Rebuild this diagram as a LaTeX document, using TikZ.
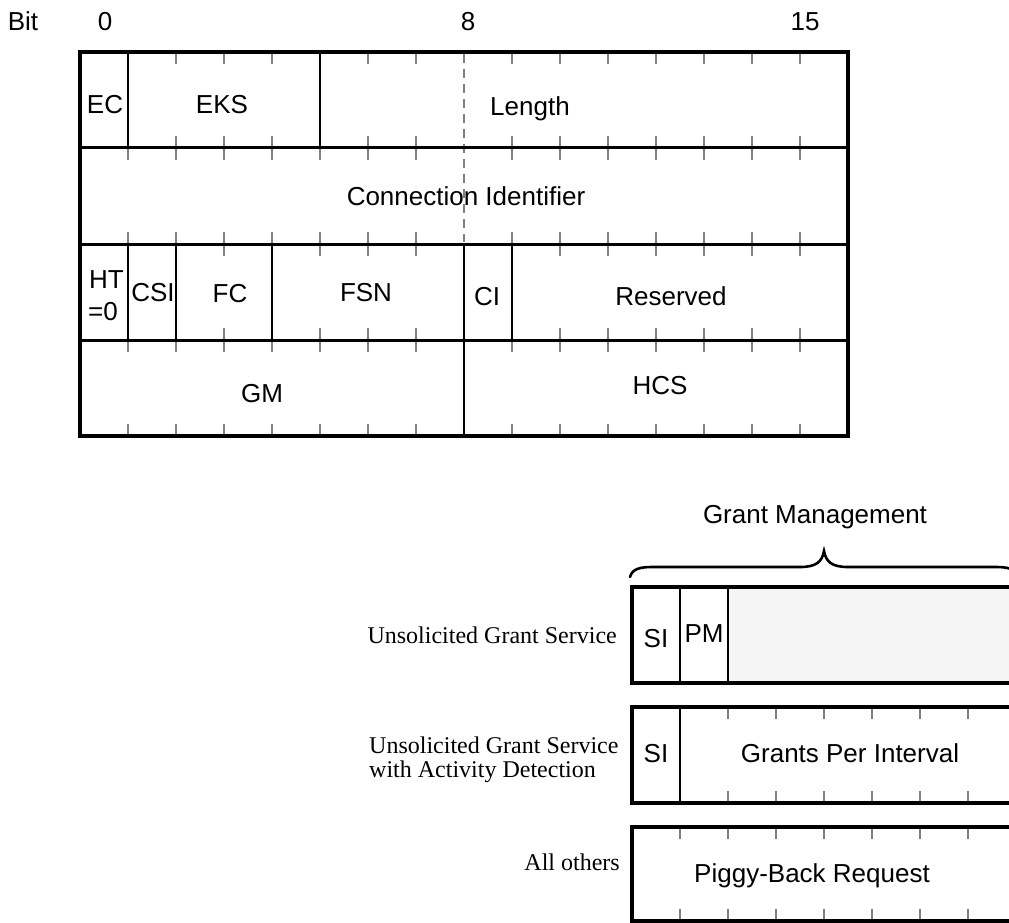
\documentclass[tikz,border=0pt]{standalone}
\usepackage{fontspec}
\setmainfont{Liberation Sans}
\newfontfamily\serifLab{Liberation Serif}
\definecolor{tickgray}{HTML}{808080}
\definecolor{fillgray}{HTML}{F5F5F5}
\begin{document}
\begin{tikzpicture}[x=1pt,y=-1pt,
  border/.style={line width=3.6pt},
  rowline/.style={line width=3pt},
  divider/.style={line width=1.8pt},
  tickmark/.style={line width=1.6pt,draw=tickgray},
  lbl/.style={font=\fontsize{26}{30}\selectfont,inner sep=0pt,anchor=base},
  svc/.style={font=\serifLab\fontsize{24}{26}\selectfont,inner sep=0pt},
  bracestyle/.style={line width=2.6pt,line cap=round}
]
\useasboundingbox (0,0) rectangle (1009,923);
\clip (0,0) rectangle (1009,923);

% ---------- top header table ----------
% ticks row 1
\foreach \b in {2,3,4,6,7,9,10,11,12,13,14,15} {
  \draw[tickmark] (80+48*\b,52) -- ++(0,12);
  \draw[tickmark] (80+48*\b,148) -- ++(0,-12);
}
% ticks row 2
\foreach \b in {1,2,3,4,5,6,7,9,10,11,12,13,14,15} {
  \draw[tickmark] (80+48*\b,148) -- ++(0,12);
  \draw[tickmark] (80+48*\b,244) -- ++(0,-12);
}
% ticks row 3
\foreach \b in {3,5,6,7,10,11,12,13,14,15} {
  \draw[tickmark] (80+48*\b,244) -- ++(0,12);
  \draw[tickmark] (80+48*\b,340) -- ++(0,-12);
}
% ticks row 4
\foreach \b in {1,2,3,4,5,6,7,9,10,11,12,13,14,15} {
  \draw[tickmark] (80+48*\b,340) -- ++(0,12);
  \draw[tickmark] (80+48*\b,436) -- ++(0,-12);
}
% dashed byte boundary
\draw[line width=1.4pt,draw=tickgray,dash pattern=on 9pt off 6pt] (464,54) -- (464,242);

% field dividers
\draw[divider] (128,52) -- (128,148);
\draw[divider] (320,52) -- (320,148);
\draw[divider] (128,244) -- (128,340);
\draw[divider] (176,244) -- (176,340);
\draw[divider] (272,244) -- (272,340);
\draw[divider] (464,244) -- (464,340);
\draw[divider] (512,244) -- (512,340);
\draw[divider] (464,340) -- (464,436);
% row lines
\draw[rowline] (80,148) -- (848,148);
\draw[rowline] (80,244) -- (848,244);
\draw[rowline] (80,340) -- (848,340);
% outer border
\draw[border] (80,52) rectangle (848,436);

% header labels
\node[lbl] (bit) at (23,31) {Bit};
\node[lbl] (b0) at (105,31) {0};
\node[lbl] (b8) at (468,31) {8};
\node[lbl] (b15) at (805,31) {15};

% field labels
\node[lbl] (ec) at (105,114) {EC};
\node[lbl] (eks) at (222,114) {EKS};
\node[lbl] (len) at (530,116) {Length};
\node[lbl] (cid) at (466,205) {Connection Identifier};
\node[lbl,anchor=base west] (ht) at (89,288) {HT};
\node[lbl,anchor=base west] (ht0) at (88,320) {=0};
\node[lbl] (csi) at (153,301) {CSI};
\node[lbl] (fc) at (230,302) {FC};
\node[lbl] (fsn) at (366,301) {FSN};
\node[lbl] (ci) at (487,305) {CI};
\node[lbl] (res) at (671,305) {Reserved};
\node[lbl] (gm) at (262,402) {GM};
\node[lbl] (hcs) at (660,394) {HCS};

% ---------- grant management ----------
\node[lbl] (gmt) at (815,523) {Grant Management};
\draw[bracestyle] (630,577) .. controls (632,569) and (640,567) .. (652,567)
  -- (800,567) .. controls (816,567) and (822,562) .. (824,551)
  .. controls (826,562) and (832,567) .. (848,567)
  -- (996,567) .. controls (1008,567) and (1016,569) .. (1018,577);

% box 1
\fill[fillgray] (728,587) rectangle (1016,683);
\draw[divider] (680,587) -- (680,683);
\draw[divider] (728,587) -- (728,683);
\draw[border] (632,587) rectangle (1016,683);
\node[lbl] (si1) at (656,647) {SI};
\node[lbl] (pm1) at (704,642) {PM};

% box 2
\foreach \b in {2,3,4,5,6,7} {
  \draw[tickmark] (632+48*\b,707) -- ++(0,12);
  \draw[tickmark] (632+48*\b,803) -- ++(0,-12);
}
\draw[divider] (680,707) -- (680,803);
\draw[border] (632,707) rectangle (1016,803);
\node[lbl] (si2) at (656,762) {SI};
\node[lbl] (gpi) at (850,762) {Grants Per Interval};

% box 3
\foreach \b in {1,2,3,4,5,6,7} {
  \draw[tickmark] (632+48*\b,827) -- ++(0,12);
  \draw[tickmark] (632+48*\b,921) -- ++(0,-12);
}
\draw[border] (632,827) rectangle (1016,921);
\node[lbl] (pbr) at (812,882) {Piggy-Back Request};

% service labels
\node[svc,anchor=base east] (ugs) at (617,643) {Unsolicited Grant Service};
\node[svc,anchor=base west] (ugsad1) at (369,753) {Unsolicited Grant Service};
\node[svc,anchor=base west] (ugsad2) at (369,777) {with Activity Detection};
\node[svc,anchor=base east] (oth) at (620,870) {All others};
\end{tikzpicture}
\end{document}
